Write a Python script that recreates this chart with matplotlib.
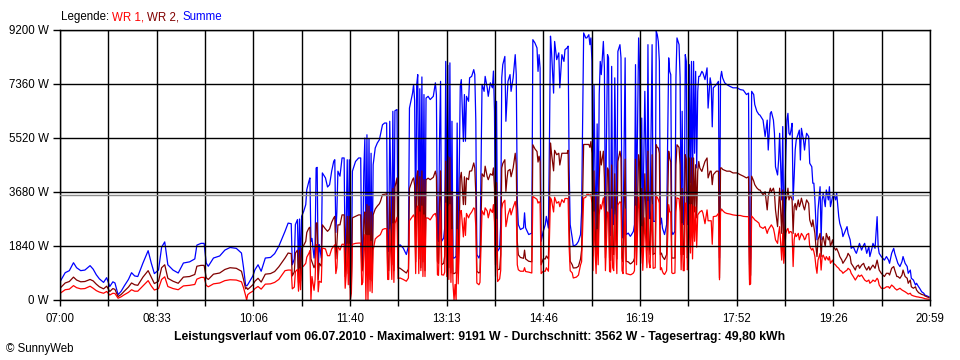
import matplotlib
matplotlib.use("Agg")
import matplotlib.pyplot as plt
import numpy as np

plt.rcParams['font.family'] = ['Liberation Sans', 'DejaVu Sans']

# minutes after 07:00, one entry per sample
minutes = [
    0, 5, 9, 13, 16, 20, 24, 29, 32, 35, 38, 42, 45, 48, 51, 53, 56, 59, 62, 66,
    69, 72, 75, 80, 85, 88, 91, 95, 98, 101, 104, 109, 114, 119, 125, 130, 132, 136, 139, 141,
    143, 148, 154, 159, 164, 170, 175,
    177, 179, 180, 181, 183, 186, 188, 191, 194, 198, 203, 207, 211, 217, 220, 223, 224, 226, 227, 229,
    230, 231, 232, 233, 235, 237, 238, 240, 241, 242, 243, 245, 246, 247, 248, 249, 250, 252, 253, 256,
    258, 260, 262, 264, 265, 266, 267, 268, 270, 272, 274, 275, 276, 277, 278, 279, 280, 281, 282, 285,
    288, 290, 291, 292, 293, 294, 295, 296, 297, 298, 299, 300, 301, 302, 304, 306, 308, 309, 311, 313,
    315, 316, 317, 318, 320, 321, 322, 323, 325, 326, 328, 331, 334, 336, 337, 338, 340, 341, 342,
    343, 344, 345, 346, 347, 348, 349, 350, 351, 352, 353, 355, 357, 360, 362, 363, 364, 365, 366, 367,
    368, 370, 371, 372, 373, 374, 375, 376, 377, 378, 379, 380, 381, 382, 383, 384, 386, 387, 389, 390,
    391, 392, 394, 395, 397, 399, 400, 401, 402, 404, 405, 407, 409, 410, 412, 413, 415, 417, 418, 419,
    420, 421, 422, 424, 425, 426, 427, 429, 430, 431, 432, 434, 435, 437, 439, 440, 441, 442, 444, 447,
    448, 449, 452, 455, 456, 458, 460, 461, 462, 463, 464, 466, 468, 469, 471, 472, 473, 474, 476, 477,
    479, 481, 482, 484, 486, 487, 489, 490, 491, 492, 494, 495, 498, 500, 502, 503, 505, 507, 508, 510,
    511, 512,
    513, 514, 515, 516, 517, 518, 519, 520, 521, 522, 524, 525, 526, 528, 529, 530, 531, 532, 533, 534,
    535, 537, 538, 540, 541, 542, 543, 545, 546, 548, 550, 551, 553, 554, 555, 556, 558, 559, 560, 561,
    562, 564, 566, 567, 568, 569, 571, 572, 574, 575, 576, 577, 578, 579, 580, 581, 582, 583, 585, 587,
    588, 589, 590, 591, 593, 594, 595, 597, 598, 599, 600, 601, 602, 603, 604, 605, 606, 607, 608, 609,
    610, 611, 612, 613, 614, 615, 616, 617, 619, 620, 622, 624, 625, 627, 628, 629, 630, 633, 635, 636,
    637, 638, 639, 641, 643, 646, 649, 653, 656, 659, 662, 664, 665, 666, 667, 669, 670, 672, 674,
    675, 678, 680, 682, 683, 685, 686, 688, 689, 690, 692, 693, 694, 696, 697, 698, 700, 701, 702, 703,
    704, 705, 706, 707, 708, 709, 710, 712, 713, 714, 715, 717, 718, 719, 720, 722, 723, 725, 726, 727,
    728, 729, 730, 731, 733, 734, 735, 736, 738, 739, 741, 742, 743, 745, 746, 748, 749, 751, 752, 754,
    755, 757, 759, 760, 762, 763, 765, 767, 768, 770, 771, 773, 775, 776, 778, 780, 781, 783, 784, 786,
    788, 789, 790, 792, 795, 797, 799, 800, 802, 804, 805, 807, 808, 810, 812, 813, 815, 817, 818, 820,
    821, 823, 825, 826, 828, 829, 831, 833, 834, 836, 838,
]

summe = [
    620, 930, 1000, 1270, 1100, 1000, 1020, 1170, 1050, 860, 720, 600, 760, 460, 620, 580, 180, 300, 480, 700,
    930, 820, 800, 1260, 1680, 1260, 900, 1020, 1800, 1980, 1200, 1020, 920, 1260, 1300, 1400, 1870, 1930, 1930, 1260,
    1150, 1430, 1500, 1700, 1790, 1760, 1600,
    1100, 500, 480, 520, 640, 820, 1030, 1200, 980, 1430, 1450, 1580, 1830, 2340, 2620, 2600, 1200, 1400, 2570, 2740,
    900, 2760, 1000, 2850, 3020, 3250, 3760, 4040, 4160, 2000, 2100, 1430, 1890, 4500, 4520, 980, 1890, 1430, 4330, 4160,
    3850, 3930, 4390, 4730, 4780, 2300, 3000, 4390, 4220, 4840, 4840, 1200, 2560, 4780, 1430, 4780, 520, 750, 4390, 4720,
    4840, 4840, 1200, 1800, 4390, 5520, 1200, 5630, 1100, 5500, 1000, 5000, 900, 4610, 5180, 5350, 5460, 5630, 5970, 6030,
    6030, 1660, 1660, 6090, 1900, 6430, 1500, 6450, 6490, 1830, 1880, 1770, 1550, 1830, 6540, 6710, 7050, 7340, 6800,
    2200, 7340, 7680, 2300, 7200, 2200, 7600, 2100, 7000, 1800, 6880, 6940, 6830, 6940, 7400, 6990, 2110, 2000, 5460, 7450,
    2000, 2110, 2450, 8130, 2000, 8000, 1800, 8080, 1500, 6090, 1430, 1430, 1450, 1500, 6030, 1450, 7280, 7510, 5400, 7000,
    5410, 6940, 6770, 7570, 7620, 7850, 7680, 6090, 1550, 1430, 1550, 7340, 7110, 7620, 7230, 6940, 7400, 7230, 7800, 6430,
    2000, 6770, 1660, 1770, 2560, 7570, 8020, 8300, 6090, 6770, 7450, 7680, 7110, 7570, 8360, 7680, 3360, 2570, 2400, 2460,
    2970, 2460, 2230, 2280, 8870, 8760, 8590, 7790, 8360, 7900, 2000, 2340, 2570, 2850, 2450, 5400, 8990, 8470, 7050, 8810,
    8190, 8420, 7230, 8360, 8130, 8530, 8590, 8650, 4500, 2570, 2110, 1830, 1890, 2000, 2230, 3000, 9100, 8930, 8930, 9040,
    8700, 8930,
    8130, 2570, 7340, 4260, 2170, 6000, 3010, 7000, 8130, 7680, 8810, 7910, 2570, 8360, 8250, 2340, 2200, 7960, 2600, 2570,
    7570, 2300, 8470, 8700, 8250, 2450, 2110, 8250, 2230, 2280, 2170, 2220, 2340, 2570, 8020, 3020, 8930, 7790, 3130, 6200,
    2570, 7110, 2790, 8700, 3240, 2770, 8700, 2680, 2680, 9160, 9040, 8810, 8130, 2570, 2790, 2450, 2340, 2230, 2570, 8250,
    7790, 7680, 2340, 2230, 2340, 7570, 8930, 8700, 7570, 2570, 6430, 2570, 2790, 8360, 8130, 2570, 3020, 8020, 4000, 8130,
    3500, 8130, 5000, 7790, 4500, 7110, 7620, 7620, 7790, 7740, 7510, 7910, 6540, 7570, 7340, 5900, 7230, 7340, 7450, 1430,
    7570, 7790, 7570, 7400, 7340, 7280, 7230, 7230, 7170, 7150, 7000, 7050, 1200, 1400, 7110, 7000, 6660, 6430, 6320,
    6300, 6130, 5570, 6130, 5110, 6360, 6420, 6130, 5680, 4540, 4260, 4770, 5680, 3410, 5910, 2270, 5000, 6130, 6360, 5680,
    5620, 5790, 6020, 3410, 4200, 5110, 5450, 5680, 5790, 4770, 5850, 5450, 5110, 5450, 5680, 5570, 4660, 4540, 3980, 3980,
    3410, 2610, 2050, 3070, 3860, 2050, 3410, 3640, 3180, 3750, 3410, 3860, 3180, 3520, 3640, 3410, 3640, 2840, 2610, 2390,
    2160, 2330, 2500, 2270, 2050, 1760, 1820, 1650, 1590, 1820, 1930, 1700, 1870, 1930, 1590, 1820, 1480, 1760, 1930, 1760,
    2840, 1820, 1590, 1480, 1360, 1480, 1360, 1250, 1590, 1760, 1590, 1360, 1250, 1140, 1310, 1480, 1250, 1140, 910, 1020,
    740, 680, 510, 570, 450, 400, 280, 230, 170, 140, 110,
]

wr2 = [
    400, 580, 630, 780, 680, 620, 630, 700, 650, 540, 450, 380, 470, 290, 390, 360, 115, 190, 300, 440,
    580, 520, 500, 780, 1000, 780, 560, 640, 1100, 1200, 740, 640, 570, 780, 800, 870, 1150, 1180, 1180, 760,
    700, 880, 920, 1040, 1100, 1080, 980,
    700, 380, 420, 360, 420, 520, 640, 740, 610, 880, 900, 970, 1130, 1430, 1600, 1580, 820, 960, 1600, 1700,
    600, 1700, 650, 1750, 1860, 2000, 2300, 2450, 2480, 1400, 1300, 1100, 1200, 2620, 2630, 700, 1250, 1150, 2560, 2420,
    2340, 2420, 2650, 2800, 2850, 1400, 1900, 2560, 2560, 2900, 2900, 800, 1700, 2850, 900, 2850, 420, 520, 2800, 2850,
    2900, 2900, 980, 1200, 2700, 3000, 1000, 3250, 900, 3200, 700, 3000, 650, 2900, 3100, 3200, 3280, 3360, 3590, 3600,
    3620, 1000, 1000, 3650, 1200, 3800, 1000, 3850, 4160, 1100, 1080, 1000, 920, 1050, 3800, 3900, 4100, 4160, 3900,
    1300, 4200, 4400, 1400, 4200, 1100, 4400, 1300, 4100, 1000, 4100, 4150, 4100, 4180, 4390, 4200, 1320, 1250, 3300, 4400,
    1200, 1250, 1500, 4730, 1200, 4900, 1100, 4850, 920, 3700, 900, 900, 920, 930, 3600, 900, 4160, 4350, 3250, 4200,
    3250, 4160, 4100, 4390, 4400, 4670, 4500, 3600, 980, 920, 950, 4300, 4200, 4560, 4200, 4100, 4300, 4250, 4500, 3800,
    1200, 4000, 1030, 1050, 1550, 4500, 4650, 4780, 3700, 4100, 4400, 4450, 4200, 4500, 5000, 4600, 2000, 1540, 1450, 1420,
    1700, 1400, 1320, 1300, 5290, 5150, 5060, 4700, 4900, 4700, 1200, 1400, 1400, 1500, 1400, 3200, 5350, 5000, 4400, 5100,
    4950, 5000, 4600, 5000, 5000, 5000, 5000, 5100, 2700, 1320, 1200, 1090, 1100, 1150, 1400, 1700, 5300, 5300, 5300, 5300,
    5200, 5400,
    5000, 1500, 4400, 2500, 1400, 3600, 1800, 4100, 5070, 4600, 5070, 4160, 1430, 4500, 4400, 1430, 1350, 4600, 1600, 1550,
    4300, 1400, 4720, 5070, 4840, 1430, 1300, 4800, 1320, 1300, 1230, 1250, 1320, 1430, 4800, 1800, 4950, 4610, 1900, 3800,
    1560, 4300, 1700, 5070, 2000, 1550, 4950, 1550, 1600, 5290, 5200, 5180, 5000, 1550, 1600, 1480, 1430, 1380, 1550, 5070,
    4840, 4700, 1430, 1430, 1430, 4600, 5290, 5200, 4600, 1550, 3800, 1550, 1700, 4950, 4800, 1430, 1800, 4840, 2400, 4840,
    2100, 4840, 3000, 4610, 2800, 4380, 4720, 4500, 4380, 4500, 4720, 4840, 4160, 4390, 4390, 3930, 4270, 4390, 4390, 750,
    4500, 4500, 4450, 4420, 4390, 4390, 4330, 4330, 4270, 4220, 4160, 4200, 680, 850, 4220, 4050, 3930, 3820, 3750,
    3750, 3580, 3690, 3070, 3520, 3810, 3690, 3810, 3640, 3070, 2500, 3180, 3810, 2270, 3750, 1590, 3410, 3520, 3810, 3410,
    3520, 3520, 3410, 2270, 3180, 3290, 3070, 3410, 3180, 3290, 3470, 3180, 3070, 3240, 3410, 3290, 2730, 2500, 2730, 2500,
    2270, 1820, 1480, 2050, 2270, 1480, 2050, 2160, 1820, 2270, 2050, 2160, 1820, 2050, 1820, 1700, 1760, 1590, 1480, 1360,
    1250, 1360, 1480, 1590, 1480, 1250, 1140, 1020, 1140, 1190, 1080, 1190, 1250, 1140, 1020, 1140, 1020, 1140, 1190, 1080,
    1360, 1190, 1020, 910, 800, 910, 910, 850, 1080, 1140, 1020, 800, 800, 740, 850, 1020, 800, 740, 570, 680,
    450, 400, 450, 340, 250, 230, 190, 170, 140, 110, 80,
]

wr1 = [
    225, 350, 370, 490, 420, 380, 390, 470, 400, 320, 270, 230, 290, 170, 230, 220, 60, 110, 180, 260,
    350, 300, 300, 480, 660, 480, 340, 390, 700, 790, 460, 390, 350, 480, 500, 530, 710, 770, 770, 500,
    450, 550, 580, 660, 690, 680, 620,
    420, 150, 0, 180, 240, 300, 390, 460, 370, 540, 550, 600, 700, 1000, 1020, 1020, 380, 440, 970, 1040,
    300, 1060, 350, 1100, 1160, 1250, 1460, 1590, 1680, 0, 800, 330, 690, 1880, 1890, 280, 640, 600, 1770, 1740,
    1510, 1510, 1740, 1830, 1880, 900, 1100, 1830, 1700, 1900, 1900, 400, 860, 1900, 520, 1900, 0, 230, 1900, 1930,
    1940, 1940, 520, 600, 1700, 2230, 0, 2200, 0, 2200, 300, 2000, 250, 1700, 2080, 2150, 2200, 2230, 2400, 2430,
    2430, 700, 700, 2400, 700, 2600, 600, 2600, 2820, 730, 750, 700, 640, 750, 2700, 2750, 2850, 2900, 2800,
    900, 3100, 3200, 900, 3000, 1000, 3200, 800, 2900, 800, 2800, 2790, 2730, 2900, 2950, 2800, 860, 840, 2200, 3050,
    860, 850, 950, 3300, 800, 3200, 700, 3250, 600, 2400, 530, 0, 530, 0, 2400, 550, 3020, 3050, 2150, 2800,
    2200, 2950, 2800, 2900, 3000, 3140, 3100, 2500, 580, 520, 600, 3040, 2900, 3140, 3030, 2800, 3100, 2980, 3250, 2650,
    800, 2750, 630, 720, 1010, 3100, 3300, 3400, 2500, 2680, 2900, 3120, 2900, 3150, 3360, 3100, 1200, 1030, 980, 980,
    1100, 970, 950, 920, 3530, 3480, 3430, 3300, 3350, 3300, 900, 980, 980, 1100, 980, 2100, 3480, 3400, 3000, 3500,
    3300, 3350, 3180, 3420, 3320, 3460, 3460, 3450, 1800, 1000, 920, 750, 780, 850, 1200, 1300, 3470, 3500, 3600, 3600,
    3550, 3600,
    3300, 1000, 3000, 1700, 900, 2400, 1200, 2900, 3250, 3100, 3480, 3000, 1000, 3000, 2950, 970, 950, 3100, 1100, 1000,
    2900, 900, 3240, 3350, 3300, 1000, 900, 3100, 900, 880, 860, 870, 920, 1000, 3200, 1200, 3500, 3100, 1250, 2500,
    1010, 2800, 1100, 3360, 1300, 1100, 3250, 1080, 1100, 3530, 3500, 3420, 3300, 1030, 1100, 970, 900, 870, 1000, 3250,
    3000, 3000, 930, 900, 920, 3000, 3480, 3450, 3000, 1030, 2600, 1000, 1000, 3300, 3300, 1030, 1200, 3250, 1600, 3250,
    1400, 3200, 2000, 3170, 1800, 2900, 2950, 3000, 3050, 2960, 2600, 3070, 2700, 2700, 2700, 1900, 2840, 2860, 2950, 690,
    3000, 3100, 3050, 2980, 2950, 2930, 2900, 2880, 2880, 2850, 2840, 2840, 520, 550, 2860, 2780, 2730, 2680, 2620,
    2500, 2440, 2500, 2270, 2390, 2500, 2560, 2440, 2270, 2050, 1930, 2270, 2500, 1360, 2270, 1250, 2270, 2390, 2440, 2270,
    2330, 2330, 2270, 1140, 2050, 2270, 2160, 2270, 2050, 2160, 2270, 2160, 2050, 2100, 2220, 2270, 1820, 1700, 1760, 1650,
    1480, 1140, 910, 1360, 1590, 1020, 1480, 1530, 1360, 1480, 1360, 1480, 1250, 1360, 1250, 1190, 1140, 1080, 1020, 970,
    910, 970, 1020, 1080, 1020, 910, 800, 680, 740, 850, 800, 850, 740, 680, 630, 680, 570, 630, 680, 630,
    740, 680, 510, 400, 400, 450, 450, 400, 510, 450, 400, 340, 360, 400, 340, 320, 280, 230, 200, 230,
    170, 140, 120, 110, 100, 90, 80, 60, 45, 35, 25,
]

time_labels = ["07:00", "08:33", "10:06", "11:40", "13:13", "14:46", "16:19", "17:52", "19:26", "20:59"]
y_ticks = [0, 1840, 3680, 5520, 7360, 9200]
average = 3562
legend_parts = [("Legende:", "black"), ("WR 1,", "#ff0000"), ("WR 2,", "#800000"), ("Summe", "#0000ff")]

fig = plt.figure(figsize=(9.6, 3.6), dpi=100)
ax = fig.add_axes([60 / 960, 60 / 360, 870 / 960, 270 / 360])

ax.plot(minutes, summe, color="#0000ff", lw=0.9)
ax.plot(minutes, wr2, color="#800000", lw=0.9)
ax.plot(minutes, wr1, color="#ff0000", lw=0.9)
ax.axhline(average, color="#8c8c8c", lw=1.0, zorder=3)

end = 839
ax.set_xlim(0, end)
ax.set_ylim(0, 9200)
major = np.linspace(0, end, len(time_labels))
minor = (major[:-1] + major[1:]) / 2
ax.set_xticks(major)
ax.set_xticklabels(time_labels)
ax.set_xticks(minor, minor=True)
ax.set_yticks(y_ticks)
ax.set_yticklabels([f"{v} W" for v in y_ticks])

ax.set_axisbelow(False)
ax.grid(which="both", axis="x", color="black", lw=1.0)
ax.grid(which="major", axis="y", color="black", lw=1.0)
ax.tick_params(axis="x", which="both", length=4, width=1.0, pad=5, labelsize=8.3)
ax.tick_params(axis="y", length=5, width=1.0, pad=3, labelsize=8.3)
for s in ax.spines.values():
    s.set_color("black")
    s.set_linewidth(1.0)

# legend line at the top: coloured words placed one after another
renderer = fig.canvas.get_renderer()
x_px = 61
for word, col in legend_parts:
    t = fig.text(x_px / 960, 1 - 17 / 360, word, color=col, fontsize=8.3, va="center")
    x_px += t.get_window_extent(renderer).width + 3

fig.text(0.5, 1 - 337 / 360,
         "Leistungsverlauf vom 06.07.2010 - Maximalwert: 9191 W - Durchschnitt: 3562 W - Tagesertrag: 49,80 kWh",
         ha="center", va="center", fontsize=8.8, fontweight="bold")
fig.text(6 / 960, 1 - 349 / 360, "© SunnyWeb", fontsize=8.3, va="center")

fig.savefig("out.png", dpi=100)
